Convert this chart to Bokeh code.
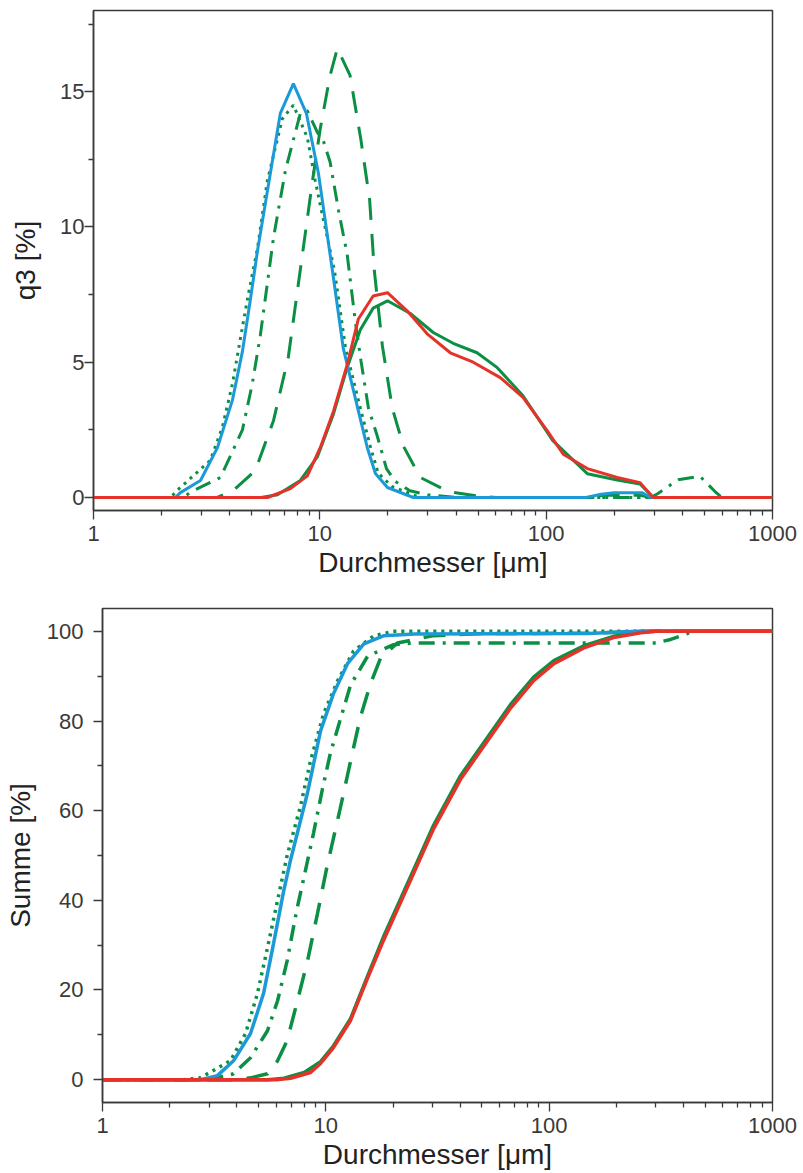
from bokeh.plotting import figure
from bokeh.models import Range1d, FixedTicker, PrintfTickFormatter
from bokeh.embed import file_html
from bokeh.resources import INLINE

# ---------------- data: q3 density distribution (top) ----------------
blue_q_d = [1, 2.3, 2.42, 2.97, 3.53, 4.11, 4.55, 4.93, 5.3, 6.69, 7.64, 8.72, 9.85, 11.36, 12.7,
            14.8, 16.2, 17.6, 19.9, 25.9, 150, 175, 200, 265, 290, 1000]
blue_q = [0, 0, 0.18, 0.63, 1.85, 3.6, 5.4, 7.3, 9.1, 14.2, 15.3, 14.2, 12.0, 8.4, 5.5,
          3.2, 1.85, 0.89, 0.37, 0, 0, 0.12, 0.18, 0.18, 0, 0]

dot_q_d = [1, 2.2, 2.3, 3.28, 3.71, 4.11, 4.55, 4.83, 5.3, 5.86, 6.83, 7.64, 8.81, 9.55, 10.05,
           11.6, 13.0, 15.2, 16.7, 18.1, 20.9, 27.7, 1000]
dot_q = [0, 0, 0.2, 1.37, 2.6, 4.2, 6.3, 7.5, 9.2, 11.7, 14.0, 14.5, 13.3, 11.7, 10.8,
         8.4, 5.5, 3.2, 1.9, 0.9, 0.4, 0, 0]

dashdot_q_d = [1, 2.5, 2.68, 3.64, 4.55, 5.03, 5.46, 5.86, 6.24, 7.05, 8.2, 8.8, 9.75, 10.35, 11.1,
               12.1, 13.2, 14.35, 15.2, 16.4, 17.9, 19.7, 21.5, 25, 30, 40, 290, 312, 383, 479,
               557, 598, 1000]
dashdot_q = [0, 0, 0.2, 0.74, 2.5, 4.2, 6.0, 7.9, 9.6, 12.1, 14.2, 14.3, 13.5, 13.2, 12.4,
             10.6, 9.0, 6.5, 5.05, 3.3, 2.3, 1.07, 0.6, 0.25, 0.1, 0, 0, 0.15, 0.66, 0.78,
             0.22, 0, 0]

dash_q_d = [1, 3.5, 4.15, 5.19, 6.24, 7.26, 8.04, 9.28, 10.05, 11.1, 11.95, 13.6, 15.2, 16.6,
            17.4, 18.9, 20.9, 23.4, 27.8, 36.9, 50, 60, 150, 180, 260, 290, 1000]
dash_q = [0, 0, 0.26, 1.0, 2.84, 5.2, 7.9, 11.7, 13.65, 15.6, 16.6, 15.6, 13.2, 11.0,
          8.4, 5.6, 3.3, 1.9, 0.74, 0.22, 0.05, 0, 0, 0.08, 0.08, 0, 0]

green_q_d = [1, 5.5, 6.5, 8.2, 9.75, 11.5, 13.2, 15.1, 17.2, 19.9, 25.1, 31.7, 38.8, 49.5,
             60.8, 79, 107, 152, 206, 260, 297, 1000]
green_q = [0, 0, 0.1, 0.63, 1.5, 3.1, 4.8, 6.2, 7.0, 7.27, 6.8, 6.1, 5.7, 5.35,
           4.8, 3.76, 2.1, 0.88, 0.65, 0.5, 0, 0]

red_q_d = [1, 5.87, 7.41, 8.81, 10.05, 11.5, 13.2, 14.8, 17.2, 19.9, 24.3, 29.8, 37.7, 47.6,
           62.7, 79, 101, 119, 152, 206, 260, 297, 1000]
red_q = [0, 0, 0.33, 0.8, 1.85, 3.2, 4.9, 6.6, 7.45, 7.57, 6.9, 6.05, 5.35, 5.0,
         4.43, 3.7, 2.47, 1.6, 1.07, 0.74, 0.55, 0, 0]

# ---------------- data: cumulative distribution (bottom) ----------------
blue_s_d = [1, 2.75, 3.27, 3.86, 4.6, 5.26, 5.83, 6.47, 6.95, 8.28, 9.47, 10.8, 12.5, 14.8,
            18.1, 25, 150, 250, 1000]
blue_s = [0, 0, 0.9, 4.2, 10.3, 19.2, 30.3, 42, 49, 64, 77.8, 86, 92.8, 97.2,
          99, 99.4, 99.5, 100, 100]

dot_s_d = [1, 2.3, 2.75, 2.95, 3.74, 4.37, 4.94, 5.48, 6.08, 6.71, 7.7, 8.53, 9.77, 11.3,
           13.3, 16.4, 20, 1000]
dot_s = [0, 0, 0.4, 1.3, 4.2, 10.3, 19.2, 29.4, 40, 50, 61, 71, 81.6, 89,
         95.6, 99, 100, 100]

dashdot_s_d = [1, 3.0, 3.86, 4.6, 5.48, 6.08, 6.71, 7.4, 8.28, 8.81, 9.67, 10.5, 12.9, 15.4,
               20, 25, 300, 350, 443, 1000]
dashdot_s = [0, 0, 1.3, 4.9, 10.9, 17.6, 26.5, 37.7, 48.8, 55, 65, 73, 88, 94.5,
             97, 97.4, 97.4, 98.2, 100, 100]

dash_s_d = [1, 4.0, 4.6, 5.48, 6.08, 6.71, 7.4, 8.28, 9.17, 10.1, 11.6, 12.9, 14.3, 15.9,
            17.6, 20.9, 30, 50, 150, 260, 1000]
dash_s = [0, 0, 0.4, 1.3, 4.2, 8.7, 16.9, 26.5, 37, 47.3, 60.5, 71, 81, 88.5,
          94.1, 97.4, 99, 99.5, 99.6, 100, 100]

green_s_d = [1, 5.5, 6.5, 8.0, 9.47, 10.8, 12.9, 15.4, 18.1, 21.6, 24.7, 30.4, 40.1, 53,
             67.2, 85.2, 105, 143, 194, 257, 300, 1000]
green_s = [0, 0, 0.3, 1.6, 4.0, 7.5, 13.6, 23.2, 31.8, 40.3, 46.8, 56.8, 67.8, 76.4,
           83.7, 89.8, 93.5, 96.8, 98.9, 99.8, 100, 100]

red_s_d = [1, 6.0, 6.95, 8.54, 9.47, 10.8, 12.9, 15.4, 18.1, 21.6, 24.7, 30.4, 40.1, 53,
           67.2, 85.2, 105, 143, 194, 257, 300, 1000]
red_s = [0, 0, 0.3, 1.6, 3.6, 7.1, 13.2, 22.7, 31.0, 39.5, 46.0, 56.0, 67.0, 75.6,
         82.9, 89, 92.8, 96.3, 98.6, 99.7, 100, 100]

x_ticks = [1, 10, 100, 1000]
x_minor = [2, 3, 4, 5, 6, 7, 8, 9, 20, 30, 40, 50, 60, 70, 80, 90,
           200, 300, 400, 500, 600, 700, 800, 900]
top_y_ticks = [0, 5, 10, 15]
top_y_minor = [2.5, 7.5, 12.5, 17.5]
bot_y_ticks = [0, 20, 40, 60, 80, 100]
bot_y_minor = [10, 30, 50, 70, 90]

x_label = "Durchmesser [μm]"
top_y_label = "q3 [%]"
bot_y_label = "Summe [%]"

BLUE = "#1b9ad7"
GREEN = "#0a8f43"
RED = "#e5332a"
AX = "#3a3a3a"
FONT = "Liberation Sans"


def make_fig(height, left, top, bottom, yr, yt, ym, ylab, y_standoff, ylab_standoff):
    p = figure(width=803, height=height, x_axis_type="log",
               x_range=Range1d(1, 1000), y_range=Range1d(*yr),
               output_backend="svg", toolbar_location=None,
               min_border_left=left, min_border_right=31,
               min_border_top=top, min_border_bottom=bottom)
    p.xgrid.visible = False
    p.ygrid.visible = False
    p.outline_line_color = AX
    p.outline_line_width = 1.5
    p.background_fill_color = "white"
    p.border_fill_color = "white"
    p.xaxis.ticker = FixedTicker(ticks=x_ticks, minor_ticks=x_minor)
    p.yaxis.ticker = FixedTicker(ticks=yt, minor_ticks=ym)
    p.xaxis.formatter = PrintfTickFormatter(format="%d")
    p.yaxis.formatter = PrintfTickFormatter(format="%d")
    p.xaxis.axis_label = x_label
    p.yaxis.axis_label = ylab
    for ax in (p.xaxis[0], p.yaxis[0]):
        ax.axis_line_color = AX
        ax.axis_line_width = 1.5
        ax.major_tick_line_color = AX
        ax.minor_tick_line_color = AX
        ax.major_tick_line_width = 1.3
        ax.minor_tick_line_width = 1.3
        ax.major_tick_in = 0
        ax.major_tick_out = 9
        ax.minor_tick_in = 0
        ax.minor_tick_out = 5
        ax.major_label_text_font = FONT
        ax.major_label_text_font_size = "22px"
        ax.major_label_text_color = AX
        ax.axis_label_text_font = FONT
        ax.axis_label_text_font_size = "28px"
        ax.axis_label_text_font_style = "normal"
        ax.axis_label_text_color = "#222222"
    p.xaxis.major_label_standoff = 6
    p.xaxis.axis_label_standoff = 3
    p.yaxis.major_label_standoff = y_standoff
    p.yaxis.axis_label_standoff = ylab_standoff
    return p


p1 = make_fig(580, 93, 10, 70, (-0.48, 18.0), top_y_ticks, top_y_minor, top_y_label, 0, 16)
W1 = 3
p1.line(dash_q_d, dash_q, line_color=GREEN, line_width=W1, line_dash="22 14")
p1.line(dashdot_q_d, dashdot_q, line_color=GREEN, line_width=W1, line_dash="16 8 3 8")
p1.line(dot_q_d, dot_q, line_color=GREEN, line_width=W1, line_dash="3 5")
p1.line(green_q_d, green_q, line_color=GREEN, line_width=W1)
p1.line(blue_q_d, blue_q, line_color=BLUE, line_width=W1)
p1.line(red_q_d, red_q, line_color=RED, line_width=W1)

p2 = make_fig(593, 102, 28, 71, (-5.1, 105.1), bot_y_ticks, bot_y_minor, bot_y_label, 10, 8)
W2 = 3.5
p2.line(dash_s_d, dash_s, line_color=GREEN, line_width=W2, line_dash="22 14")
p2.line(dashdot_s_d, dashdot_s, line_color=GREEN, line_width=W2, line_dash="16 8 3 8")
p2.line(dot_s_d, dot_s, line_color=GREEN, line_width=W2, line_dash="3 5")
p2.line(green_s_d, green_s, line_color=GREEN, line_width=W2)
p2.line(blue_s_d, blue_s, line_color=BLUE, line_width=W2)
p2.line(red_s_d, red_s, line_color=RED, line_width=W2)

open("out.html", "w").write(file_html([p1, p2], INLINE))
